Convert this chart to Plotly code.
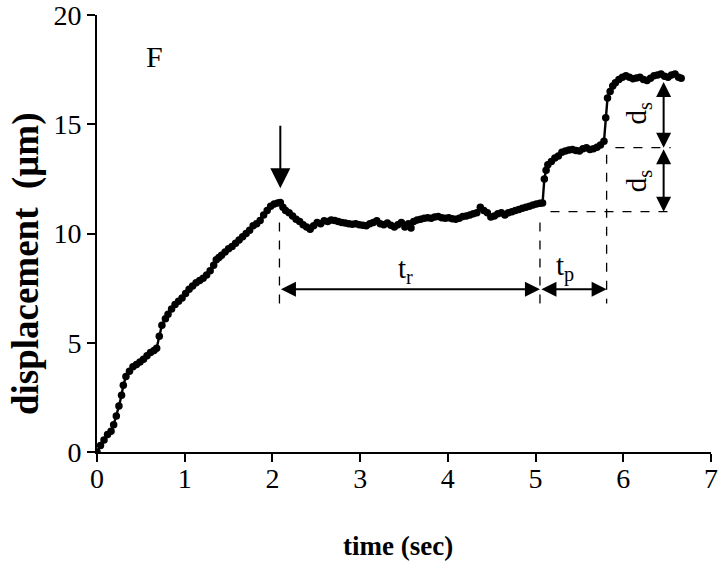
import plotly.graph_objects as go

# ---- data ----
time_s = [0.00, 0.04, 0.08, 0.12, 0.16, 0.19, 0.22, 0.25, 0.28, 0.30, 0.33, 0.37, 0.41, 0.45, 0.49,
          0.53, 0.57, 0.61, 0.65, 0.68, 0.71, 0.74, 0.78, 0.81, 0.85, 0.89, 0.93, 0.97, 1.01, 1.05,
          1.09, 1.13, 1.17, 1.21, 1.25, 1.29, 1.33, 1.36, 1.39, 1.42, 1.46, 1.50, 1.54, 1.58, 1.62,
          1.66, 1.70, 1.74, 1.78, 1.82, 1.86, 1.90, 1.94, 1.98, 2.02, 2.06, 2.09, 2.12, 2.15, 2.19,
          2.23, 2.27, 2.31, 2.35, 2.39, 2.43, 2.47, 2.51, 2.55, 2.59, 2.63, 2.67, 2.71, 2.75, 2.79,
          2.83, 2.87, 2.91, 2.95, 2.99, 3.03, 3.07, 3.11, 3.15, 3.19, 3.23, 3.27, 3.31, 3.35, 3.39,
          3.43, 3.47, 3.51, 3.55, 3.58, 3.61, 3.65, 3.69, 3.73, 3.77, 3.81, 3.85, 3.89, 3.93, 3.97,
          4.01, 4.05, 4.09, 4.13, 4.17, 4.21, 4.25, 4.29, 4.33, 4.37, 4.41, 4.45, 4.49, 4.53, 4.57,
          4.61, 4.65, 4.69, 4.73, 4.77, 4.81, 4.85, 4.89, 4.93, 4.97, 5.01, 5.05, 5.08, 5.10, 5.12,
          5.14, 5.18, 5.22, 5.26, 5.30, 5.34, 5.38, 5.42, 5.46, 5.50, 5.54, 5.58, 5.62, 5.66, 5.70,
          5.74, 5.78, 5.80, 5.82, 5.85, 5.88, 5.91, 5.95, 5.99, 6.03, 6.07, 6.11, 6.15, 6.19, 6.23,
          6.27, 6.31, 6.35, 6.39, 6.43, 6.47, 6.51, 6.55, 6.59, 6.63, 6.66]
displacement_um = [0.00, 0.30, 0.55, 0.80, 0.95, 1.25, 1.65, 2.10, 2.60, 3.05, 3.45, 3.70, 3.90, 4.00, 4.12,
                   4.25, 4.40, 4.55, 4.65, 4.75, 5.30, 5.80, 6.10, 6.30, 6.55, 6.75, 6.90, 7.05, 7.25, 7.45,
                   7.60, 7.75, 7.85, 7.95, 8.10, 8.30, 8.55, 8.80, 8.90, 9.00, 9.15, 9.30, 9.40, 9.55, 9.70,
                   9.85, 10.00, 10.15, 10.35, 10.45, 10.60, 10.85, 11.05, 11.25, 11.35, 11.40, 11.42, 11.20, 11.05, 10.95,
                   10.80, 10.65, 10.55, 10.40, 10.30, 10.20, 10.35, 10.50, 10.45, 10.58, 10.55, 10.62, 10.60, 10.55, 10.50,
                   10.48, 10.45, 10.42, 10.45, 10.40, 10.38, 10.35, 10.45, 10.50, 10.58, 10.45, 10.40, 10.48, 10.38, 10.30,
                   10.40, 10.50, 10.30, 10.45, 10.25, 10.55, 10.62, 10.65, 10.70, 10.72, 10.70, 10.75, 10.78, 10.72, 10.70,
                   10.72, 10.68, 10.65, 10.70, 10.78, 10.80, 10.85, 10.90, 10.95, 11.20, 11.05, 10.95, 10.75, 10.80, 10.90,
                   10.95, 10.85, 10.95, 11.00, 11.05, 11.10, 11.15, 11.20, 11.25, 11.30, 11.35, 11.38, 11.40, 12.50, 12.90,
                   13.15, 13.30, 13.45, 13.55, 13.72, 13.78, 13.82, 13.85, 13.80, 13.78, 13.88, 13.92, 13.85, 13.88, 13.95,
                   14.05, 14.22, 15.30, 16.20, 16.50, 16.75, 16.90, 17.05, 17.15, 17.22, 17.15, 17.08, 17.12, 17.15, 17.05,
                   17.00, 17.10, 17.22, 17.25, 17.30, 17.20, 17.15, 17.25, 17.30, 17.15, 17.10]

x_ticks = [0, 1, 2, 3, 4, 5, 6, 7]
y_ticks = [0, 5, 10, 15, 20]

# annotation anchors (data units)
t_release, t_step1, t_step2 = 2.08, 5.05, 5.81
level_low, level_mid, level_top = 11.0, 13.93, 17.0
arrow_t_level = 7.45
dash_bottom = 6.8
ds_x = 6.46

SERIF = "Liberation Serif, Times New Roman, serif"

fig = go.Figure()
fig.add_trace(go.Scatter(
    x=time_s, y=displacement_um, mode="lines+markers",
    line=dict(color="black", width=2.4),
    marker=dict(color="black", size=7.5),
    hoverinfo="x+y", showlegend=False,
))

dash = dict(color="black", width=1.3, dash="dash")
# vertical dashed guides
fig.add_shape(type="line", x0=t_release, x1=t_release, y0=10.5, y1=dash_bottom, line=dash)
fig.add_shape(type="line", x0=t_step1, x1=t_step1, y0=10.5, y1=dash_bottom, line=dash)
fig.add_shape(type="line", x0=t_step2, x1=t_step2, y0=13.6, y1=dash_bottom, line=dash)
# horizontal dashed guides
fig.add_shape(type="line", x0=5.91, x1=6.54, y0=level_mid, y1=level_mid, line=dash)
fig.add_shape(type="line", x0=5.17, x1=6.54, y0=level_low, y1=level_low, line=dash)

def dbl_arrow(x0, y0, x1, y1):
    fig.add_annotation(x=x1, y=y1, ax=x0, ay=y0, xref="x", yref="y", axref="x", ayref="y",
                       text="", showarrow=True, arrowhead=2, arrowside="end+start",
                       arrowsize=1.5, arrowwidth=2, arrowcolor="black", standoff=0, startstandoff=0)

dbl_arrow(t_release, arrow_t_level, t_step1, arrow_t_level)
dbl_arrow(t_step1, arrow_t_level, t_step2, arrow_t_level)
dbl_arrow(ds_x, level_top, ds_x, level_mid)
dbl_arrow(ds_x, level_mid, ds_x, level_low)

# down arrow marking release
fig.add_annotation(x=2.09, y=12.07, ax=2.09, ay=15.0, xref="x", yref="y", axref="x", ayref="y",
                   text="", showarrow=True, arrowhead=2, arrowsize=2, arrowwidth=2,
                   arrowcolor="black", standoff=0)

lab = dict(family=SERIF, size=29, color="black")
fig.add_annotation(x=0.65, y=18.1, text="F", showarrow=False, font=dict(family=SERIF, size=30, color="black"))
fig.add_annotation(x=3.52, y=8.35, text="t<sub>r</sub>", showarrow=False, font=lab)
fig.add_annotation(x=5.34, y=8.45, text="t<sub>p</sub>", showarrow=False, font=lab)
fig.add_annotation(x=6.17, y=15.5, text="d<sub>s</sub>", showarrow=False, font=lab, textangle=-90)
fig.add_annotation(x=6.17, y=12.4, text="d<sub>s</sub>", showarrow=False, font=lab, textangle=-90)

# axis titles
fig.add_annotation(x=0, y=0.43, xref="paper", yref="paper", xshift=-71, xanchor="center",
                   yanchor="middle", showarrow=False,
                   text="<b>displacement\u00a0\u00a0(μm)</b>", textangle=-90,
                   font=dict(family=SERIF, size=37, color="black"))
fig.add_annotation(x=0.49, y=0, xref="paper", yref="paper", yshift=-94, xanchor="center",
                   yanchor="middle", showarrow=False,
                   text="<b>time (sec)</b>", font=dict(family=SERIF, size=27, color="black"))

axis_common = dict(showgrid=False, zeroline=False, showline=True, linecolor="black", linewidth=2,
                   ticks="outside", ticklen=8, tickwidth=2, tickcolor="black",
                   ticklabeloverflow="allow", automargin=False,
                   tickfont=dict(family=SERIF, size=28, color="black"))
fig.update_xaxes(range=[0, 7], tickvals=x_ticks, ticktext=[str(v) for v in x_ticks],
                 ticklabelstandoff=-8, **axis_common)
fig.update_yaxes(range=[0, 20], tickvals=y_ticks, ticktext=[str(v) for v in y_ticks], **axis_common)
fig.update_layout(width=720, height=565, plot_bgcolor="white", paper_bgcolor="white",
                  margin=dict(l=97, r=9, t=15, b=113))
fig.write_html("out.html", config={"displayModeBar": False},
               post_script="document.body.style.margin='0';document.body.style.padding='0';"
                           "document.body.style.overflow='hidden';")
